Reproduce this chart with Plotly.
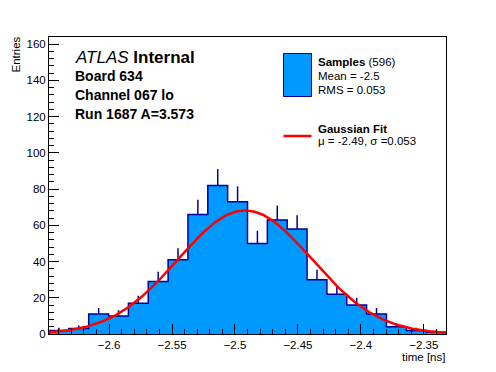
import numpy as np
import plotly.graph_objects as go

# ---------------- data ----------------
x_min = -2.6477          # lower edge of the first bin [ns]
bin_width = 0.015765     # [ns]
counts = [2, 3, 11, 10, 17, 29, 41, 66, 82, 73, 50, 63, 58, 30, 22, 16, 11, 4, 2, 1]
n_entries = 596
mean_txt = "-2.5"
rms_txt = "0.053"
fit_mu = -2.492          # Gaussian fit parameters
fit_sigma = 0.053
fit_const = 68.2
x_tick_vals = [-2.6, -2.55, -2.5, -2.45, -2.4, -2.35]
x_tick_text = ["\u22122.6", "\u22122.55", "\u22122.5", "\u22122.45", "\u22122.4", "\u22122.35"]
y_tick_vals = [0, 20, 40, 60, 80, 100, 120, 140, 160]
y_max = 164

# ---------------- derived ----------------
nb = len(counts)
edges = [x_min + i * bin_width for i in range(nb + 1)]
centers = [x_min + (i + 0.5) * bin_width for i in range(nb)]
x_max = edges[-1]
errs = [float(np.sqrt(c)) for c in counts]

FILL = "#0099ff"
EDGE = "#000099"
FONT = "Liberation Sans, Arial, Helvetica, sans-serif"

OFF = 8                      # page body margin of the html page
W, H = 496 - OFF, 372 - OFF
L, T = 49 - OFF, 37 - OFF
PW, PH = 397, 297
R, B = W - L - PW, H - T - PH


def px(x):                   # page pixel -> paper fraction
    return (x - OFF - L) / PW


def py(y):
    return (T + PH - (y - OFF)) / PH


fig = go.Figure()

# filled histogram (no internal outlines)
fig.add_trace(go.Bar(x=centers, y=counts, width=bin_width,
                     marker=dict(color=FILL, line=dict(width=0)),
                     hoverinfo="skip"))

# upper halves of the error bars (lower halves hidden by the fill)
fig.add_trace(go.Scatter(x=centers, y=counts, mode="markers",
                         marker=dict(size=0.1, color=EDGE, opacity=0),
                         error_y=dict(type="data", symmetric=False, array=errs,
                                      arrayminus=[0] * nb, width=0,
                                      color=EDGE, thickness=1.5),
                         hoverinfo="skip"))

# step outline of the histogram
sx = [edges[0]] + edges + [edges[-1]]
sy = [0] + counts + [counts[-1]] + [0]
fig.add_trace(go.Scatter(x=sx, y=sy, mode="lines", line_shape="hv",
                         line=dict(color=EDGE, width=1.5), hoverinfo="skip"))

# Gaussian fit curve
xf = np.linspace(x_min, x_max, 300)
yf = fit_const * np.exp(-0.5 * ((xf - fit_mu) / fit_sigma) ** 2)
fig.add_trace(go.Scatter(x=xf, y=yf, mode="lines",
                         line=dict(color="#ff0000", width=2.5), hoverinfo="skip"))

fig.update_layout(
    width=W, height=H, showlegend=False, bargap=0,
    margin=dict(l=L, r=R, t=T, b=B, pad=0),
    paper_bgcolor="white", plot_bgcolor="white",
    font=dict(family=FONT, size=11.5, color="black"),
    xaxis=dict(range=[x_min, x_max], showgrid=False, zeroline=False,
               showline=True, linecolor="black", linewidth=1, mirror=True,
               ticks="inside", ticklen=10, tickwidth=1, tickcolor="black",
               tickvals=x_tick_vals, ticktext=x_tick_text,
               tickfont=dict(size=11.5),
               minor=dict(ticks="inside", ticklen=5, tickwidth=1, tickcolor="black",
                          dtick=0.01, tick0=-2.6, showgrid=False)),
    yaxis=dict(range=[0, y_max], showgrid=False, zeroline=False,
               showline=True, linecolor="black", linewidth=1, mirror=True,
               ticks="inside", ticklen=10, tickwidth=1, tickcolor="black",
               tickvals=y_tick_vals, tickfont=dict(size=11.5),
               minor=dict(ticks="inside", ticklen=5, tickwidth=1, tickcolor="black",
                          dtick=4, tick0=0, showgrid=False)),
)

ann = []


def add_text(text, x, y, size, xanchor="left", yanchor="middle", angle=0, pad=1):
    ann.append(dict(text=text, x=px(x), y=py(y), xref="paper", yref="paper",
                    xanchor=xanchor, yanchor=yanchor, showarrow=False,
                    textangle=angle, borderpad=pad,
                    font=dict(size=size, family=FONT, color="black")))


add_text("<i>ATLAS</i> <b>Internal</b>", 73, 57, 17)
add_text("<b>Board 634</b>", 73, 76, 14)
add_text("<b>Channel 067 lo</b>", 73, 95, 14)
add_text("<b>Run 1687 A=3.573</b>", 73, 114, 14)

add_text("<b>Samples</b> (%d)" % n_entries, 316, 62, 11.5)
add_text("Mean = " + mean_txt, 316, 76, 11.5)
add_text("RMS = " + rms_txt, 316, 90, 11.5)
add_text("<b>Gaussian Fit</b>", 316, 129, 11.5)
add_text("\u03bc = %.2f, \u03c3 =%.3f" % (fit_mu, fit_sigma), 316, 141, 11.5)

add_text("Entries", 8.5, 36, 11.5, xanchor="left", yanchor="top", angle=-90, pad=0)
add_text("time [ns]", 447, 357, 11.5, xanchor="right")

fig.update_layout(annotations=ann)

# legend glyphs
fig.add_shape(type="rect", xref="paper", yref="paper",
              x0=px(283.5), x1=px(311.5), y0=py(96.5), y1=py(53.5),
              fillcolor=FILL, line=dict(color=EDGE, width=1))
fig.add_shape(type="line", xref="paper", yref="paper",
              x0=px(283.5), x1=px(311.5), y0=py(136), y1=py(136),
              line=dict(color="#ff0000", width=2.5))

fig.write_html("out.html")
